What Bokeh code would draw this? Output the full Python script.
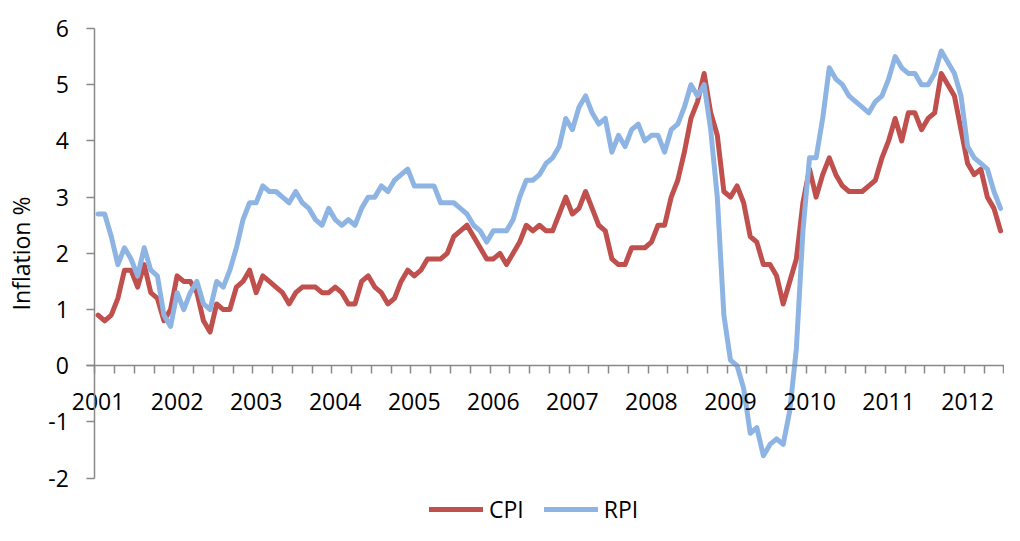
from bokeh.plotting import figure
from bokeh.models import FixedTicker, Legend, LegendItem, Range1d, LinearAxis
from bokeh.embed import file_html
from bokeh.resources import INLINE

years = [str(y) for y in range(2001, 2013)]

cpi = [0.9, 0.8, 0.9, 1.2, 1.7, 1.7, 1.4, 1.8, 1.3, 1.2, 0.8, 1.0,
       1.6, 1.5, 1.5, 1.3, 0.8, 0.6, 1.1, 1.0, 1.0, 1.4, 1.5, 1.7,
       1.3, 1.6, 1.5, 1.4, 1.3, 1.1, 1.3, 1.4, 1.4, 1.4, 1.3, 1.3,
       1.4, 1.3, 1.1, 1.1, 1.5, 1.6, 1.4, 1.3, 1.1, 1.2, 1.5, 1.7,
       1.6, 1.7, 1.9, 1.9, 1.9, 2.0, 2.3, 2.4, 2.5, 2.3, 2.1, 1.9,
       1.9, 2.0, 1.8, 2.0, 2.2, 2.5, 2.4, 2.5, 2.4, 2.4, 2.7, 3.0,
       2.7, 2.8, 3.1, 2.8, 2.5, 2.4, 1.9, 1.8, 1.8, 2.1, 2.1, 2.1,
       2.2, 2.5, 2.5, 3.0, 3.3, 3.8, 4.4, 4.7, 5.2, 4.5, 4.1, 3.1,
       3.0, 3.2, 2.9, 2.3, 2.2, 1.8, 1.8, 1.6, 1.1, 1.5, 1.9, 2.9,
       3.5, 3.0, 3.4, 3.7, 3.4, 3.2, 3.1, 3.1, 3.1, 3.2, 3.3, 3.7,
       4.0, 4.4, 4.0, 4.5, 4.5, 4.2, 4.4, 4.5, 5.2, 5.0, 4.8, 4.2,
       3.6, 3.4, 3.5, 3.0, 2.8, 2.4]

rpi = [2.7, 2.7, 2.3, 1.8, 2.1, 1.9, 1.6, 2.1, 1.7, 1.6, 0.9, 0.7,
       1.3, 1.0, 1.3, 1.5, 1.1, 1.0, 1.5, 1.4, 1.7, 2.1, 2.6, 2.9,
       2.9, 3.2, 3.1, 3.1, 3.0, 2.9, 3.1, 2.9, 2.8, 2.6, 2.5, 2.8,
       2.6, 2.5, 2.6, 2.5, 2.8, 3.0, 3.0, 3.2, 3.1, 3.3, 3.4, 3.5,
       3.2, 3.2, 3.2, 3.2, 2.9, 2.9, 2.9, 2.8, 2.7, 2.5, 2.4, 2.2,
       2.4, 2.4, 2.4, 2.6, 3.0, 3.3, 3.3, 3.4, 3.6, 3.7, 3.9, 4.4,
       4.2, 4.6, 4.8, 4.5, 4.3, 4.4, 3.8, 4.1, 3.9, 4.2, 4.3, 4.0,
       4.1, 4.1, 3.8, 4.2, 4.3, 4.6, 5.0, 4.8, 5.0, 4.2, 3.0, 0.9,
       0.1, 0.0, -0.4, -1.2, -1.1, -1.6, -1.4, -1.3, -1.4, -0.8, 0.3, 2.4,
       3.7, 3.7, 4.4, 5.3, 5.1, 5.0, 4.8, 4.7, 4.6, 4.5, 4.7, 4.8,
       5.1, 5.5, 5.3, 5.2, 5.2, 5.0, 5.0, 5.2, 5.6, 5.4, 5.2, 4.8,
       3.9, 3.7, 3.6, 3.5, 3.1, 2.8]

y_ticks = [-2, -1, 0, 1, 2, 3, 4, 5, 6]
y_labels = ["-2", "-1", "0", "1", "2", "3", "4", "5", "6"]

months = list(range(len(cpi)))
n = len(cpi)

FONT = "Open Sans"
FS = "23px"
AXIS_COL = "#898989"

W, H = 1004, 525
# horizontal: month -0.5 (the y axis) at px 94.3, last month just inside
AX_X = 94.3
k = (W - AX_X) / (n - 0.5 + 0.6)
x_start = -0.5 - AX_X / k
x_end = x_start + W / k
# vertical: 6 at px 28, -2 at px 477.7
TOP6, BOT2 = 28.0, 477.7
u = (BOT2 - TOP6) / 8.0
y_end = 6 + TOP6 / u
y_start = -2 - (H - BOT2) / u

p = figure(width=W, height=H, output_backend="svg", toolbar_location=None,
           x_range=Range1d(x_start, x_end), y_range=Range1d(y_start, y_end),
           x_axis_location=None, y_axis_location=None,
           min_border_left=0, min_border_top=0, min_border_right=0,
           min_border_bottom=0)
p.outline_line_color = None
p.grid.visible = False

r_cpi = p.line(months, cpi, line_color="#C0504D", line_width=5,
               line_join="round", line_cap="round")
r_rpi = p.line(months, rpi, line_color="#8EB4E3", line_width=5,
               line_join="round", line_cap="round")

yax = LinearAxis(fixed_location=-0.5, bounds=(-2, 6),
                 ticker=FixedTicker(ticks=y_ticks),
                 major_label_overrides=dict(zip(y_ticks, y_labels)),
                 axis_label="Inflation %",
                 axis_label_text_font=FONT, axis_label_text_font_size=FS,
                 axis_label_text_font_style="normal",
                 axis_label_text_color="black", axis_label_standoff=8,
                 axis_line_color=AXIS_COL, axis_line_width=1.5,
                 major_tick_line_color=AXIS_COL, major_tick_line_width=1.5,
                 major_tick_out=8, major_tick_in=0,
                 minor_tick_line_color=None,
                 major_label_standoff=18, major_label_text_font=FONT,
                 major_label_text_font_size=FS, major_label_text_color="black")
p.add_layout(yax, "left")

label_pos = [12 * j for j in range(len(years))]
minor_pos = [-0.5 + 3 * j for j in range(n // 3 + 1)]
xax = LinearAxis(fixed_location=0, bounds=(-0.5 - 8 / k, x_end),
                 ticker=FixedTicker(ticks=label_pos, minor_ticks=minor_pos),
                 major_label_overrides=dict(zip(label_pos, years)),
                 axis_line_color=AXIS_COL, axis_line_width=1.5,
                 major_tick_line_color=None, major_tick_out=0, major_tick_in=0,
                 minor_tick_line_color=AXIS_COL, minor_tick_line_width=1.5,
                 minor_tick_out=8, minor_tick_in=0,
                 major_label_text_font=FONT, major_label_text_font_size=FS,
                 major_label_text_color="black", major_label_standoff=19)
p.add_layout(xax, "below")

legend = Legend(items=[LegendItem(label="CPI", renderers=[r_cpi]),
                       LegendItem(label="RPI", renderers=[r_rpi])],
                orientation="horizontal", location=(429, 0),
                glyph_width=54, glyph_height=24, label_standoff=6, spacing=20,
                padding=0, margin=0, border_line_color=None,
                background_fill_alpha=0,
                label_text_font=FONT, label_text_font_size=FS,
                label_text_color="black")
p.add_layout(legend, "center")

open("out.html", "w").write(file_html(p, INLINE))
